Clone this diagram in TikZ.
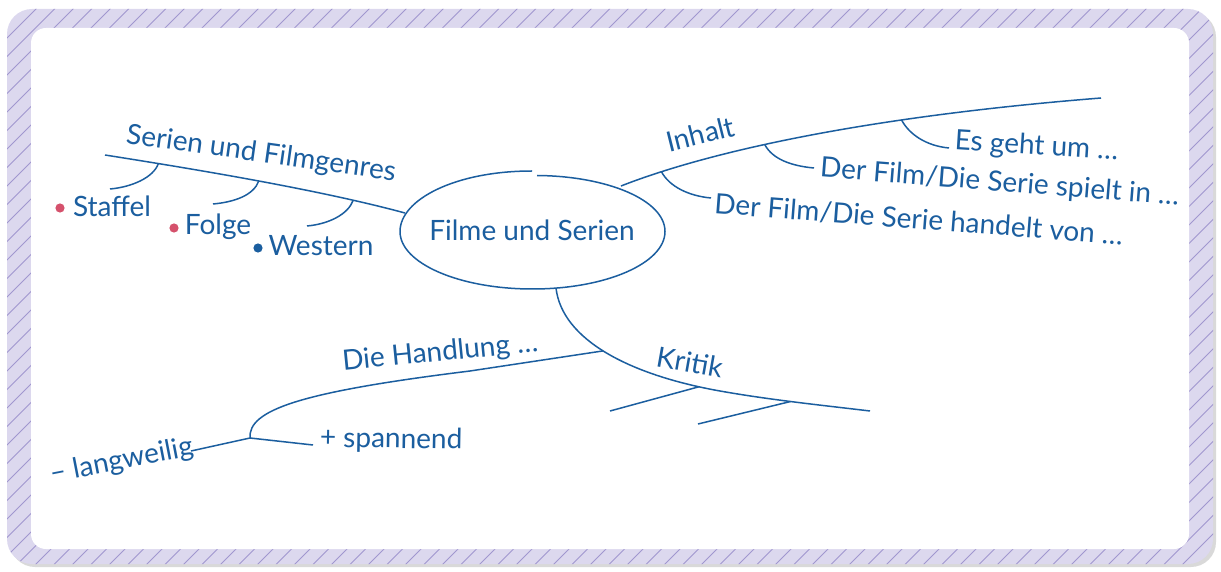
\documentclass[tikz,border=0pt]{standalone}
\usepackage{fontspec}
\setmainfont{Lato}
\definecolor{ink}{HTML}{1B5E9F}
\definecolor{pinkdot}{HTML}{D5516C}
\definecolor{lav}{HTML}{DCD8EE}
\definecolor{hatchc}{HTML}{A097CF}
\definecolor{shadowc}{HTML}{D9D9D9}
\begin{document}
\begin{tikzpicture}[x=0.5pt,y=-0.5pt,
  branch/.style={draw=ink,line width=0.75pt},
  lbl/.style={text=ink,font=\fontsize{14}{16}\selectfont,inner sep=0pt,anchor=base},
  bullet/.style={circle,fill=#1,inner sep=0pt,minimum size=4.6pt}]
\useasboundingbox (0,0) rectangle (1221,572);
% frame
\fill[shadowc,rounded corners=12.5pt] (10,12) rectangle (1216,567);
\fill[lav,rounded corners=12.5pt] (7,9) rectangle (1213,564);
\begin{scope}
\clip[rounded corners=12.5pt] (7,9) rectangle (1213,564);
\foreach \i in {-34,...,66} \draw[hatchc,line width=0.4pt] (\i*18.5,600) -- ++(640,-640);
\end{scope}
\fill[white,rounded corners=7.5pt] (31,28) rectangle (1189,549);

% centre
\node[lbl] (center) at (532,241) {Filme und Serien};
\draw[branch] (537,175.5) .. controls (607,176) and (665,200) .. (665,231.5)
  .. controls (665,263.3) and (605.7,289) .. (532.5,289)
  .. controls (459.3,289) and (400,263.3) .. (400,231.5)
  .. controls (400,199.7) and (455,171) .. (532,171);

% Serien und Filmgenres
\coordinate (sA) at (105,155);
\coordinate (sB) at (405,213);
\draw[branch] (sA) .. controls (200,170) and (320,190) .. (sB)
  coordinate[pos=0.18] (j1) coordinate[pos=0.5] (j2) coordinate[pos=0.81] (j3);
\coordinate (e1) at (110,189);
\coordinate (e2) at (213,204);
\coordinate (e3) at (307,226);
\draw[branch] (j1) .. controls +(-5,14) and +(22,-2) .. (e1);
\draw[branch] (j2) .. controls +(-5,14) and +(22,-2) .. (e2);
\draw[branch] (j3) .. controls +(-5,14) and +(22,-2) .. (e3);
\node[lbl,rotate=-8] (serien) at (260,162) {Serien und Filmgenres};
\node[bullet=pinkdot] (d1) at (60,208) {};
\node[bullet=pinkdot] (d2) at (174,228) {};
\node[bullet=ink] (d3) at (258,248) {};
\node[lbl] (staffel) at (112,217) {Staffel};
\node[lbl] (folge) at (218,235) {Folge};
\node[lbl] (western) at (321,256) {Western};

% Inhalt
\coordinate (iA) at (621,186);
\coordinate (iB) at (1101,98);
\draw[branch] (iA) .. controls (700,155) and (850,118) .. (iB)
  coordinate[pos=0.15] (i1) coordinate[pos=0.43] (i2) coordinate[pos=0.7] (i3);
\coordinate (f1) at (711,198);
\coordinate (f2) at (814,168);
\coordinate (f3) at (949,148);
\draw[branch] (i1) .. controls +(8,15) and +(-22,-2) .. (f1);
\draw[branch] (i2) .. controls +(8,15) and +(-22,-2) .. (f2);
\draw[branch] (i3) .. controls +(8,15) and +(-22,-2) .. (f3);
\node[lbl,rotate=14] (inhalt) at (703,144) {Inhalt};
\node[lbl,rotate=-3.6] (esgeht) at (1036,155) {Es geht um \dots};
\node[lbl,rotate=-4.5] (spielt) at (999,191) {Der Film/Die Serie spielt in \dots};
\node[lbl,rotate=-4.4] (handelt) at (918,229) {Der Film/Die Serie handelt von \dots};

% Kritik + Handlung
\coordinate (bA) at (556,288);
\coordinate (bM) at (720,391);
\coordinate (bB) at (870,411);
\draw[branch] (bA) .. controls (562,340) and (630,375) .. (bM)
  coordinate[pos=0.48] (hj) coordinate[pos=0.92] (k1)
  .. controls (770,399.9) and (820,405) .. (bB) coordinate[pos=0.47] (k2);
\coordinate (kE1) at (610,411);
\coordinate (kE2) at (698,424);
\draw[branch] (k1) -- (kE1);
\draw[branch] (k2) -- (kE2);
\node[lbl,rotate=-10] (kritik) at (688,372) {Kritik};

\coordinate (hM) at (470,371);
\coordinate (hb) at (250,438);
\draw[branch] (hj) -- (hM) .. controls (300,392) and (248,410) .. (hb);
\coordinate (hL) at (191,451);
\coordinate (hR) at (313,445);
\draw[branch] (hb) -- (hL);
\draw[branch] (hb) -- (hR);
\node[lbl,rotate=5.7] (handlung) at (441,361) {Die Handlung \dots};
\node[lbl,rotate=11] (lang) at (123,469) {– langweilig};
\node[lbl,rotate=-1] (spann) at (391,448) {+ spannend};
\end{tikzpicture}
\end{document}
